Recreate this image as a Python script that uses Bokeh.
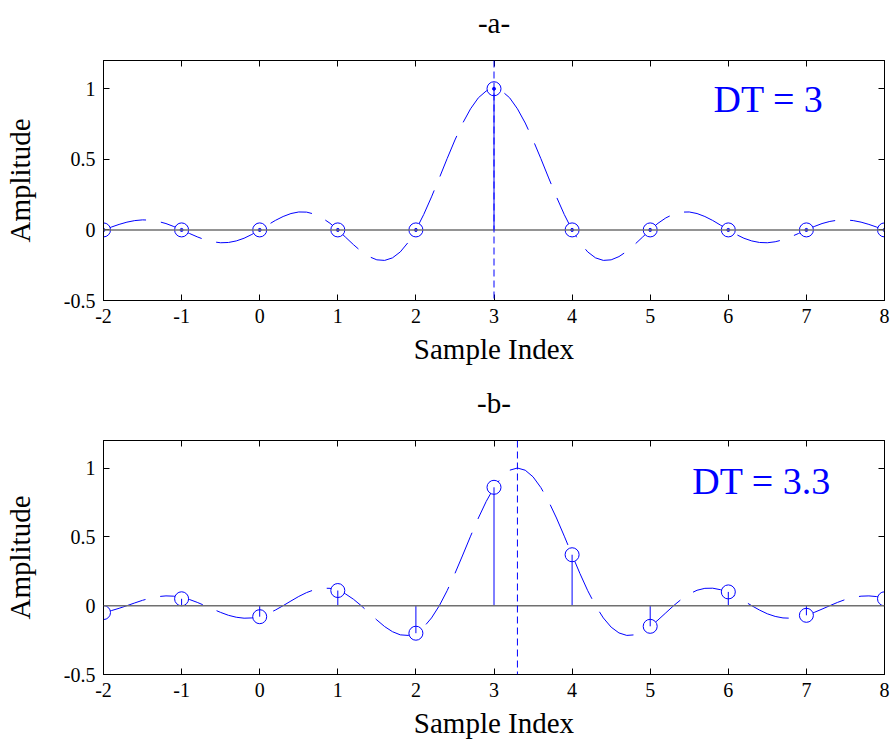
from bokeh.plotting import figure
from bokeh.layouts import column
from bokeh.models import Range1d, LinearAxis, FixedTicker, Span, Label
from bokeh.embed import file_html
from bokeh.resources import INLINE

# ---------------- data ----------------
sample_index = [-2, -1, 0, 1, 2, 3, 4, 5, 6, 7, 8]
samples_a = [0, 0, 0, 0, 0, 1, 0, 0, 0, 0, 0]
samples_b = [-0.05, 0.05, -0.08, 0.11, -0.20, 0.86, 0.37, -0.15, 0.10, -0.07, 0.05]
dt_a = 3
dt_b = 3.3
dt_label_a = "DT = 3"
dt_label_b = "DT = 3.3"
title_a = "-a-"
title_b = "-b-"

curve_x = [
    -2.0, -1.9, -1.8, -1.7, -1.6, -1.5, -1.4, -1.3, -1.2, -1.1,
    -1.0, -0.9, -0.8, -0.7, -0.6, -0.5, -0.4, -0.3, -0.2, -0.1,
    0.0, 0.1, 0.2, 0.3, 0.4, 0.5, 0.6, 0.7, 0.8, 0.9,
    1.0, 1.1, 1.2, 1.3, 1.4, 1.5, 1.6, 1.7, 1.8, 1.9,
    2.0, 2.1, 2.2, 2.3, 2.4, 2.5, 2.6, 2.7, 2.8, 2.9,
    3.0, 3.1, 3.2, 3.3, 3.4, 3.5, 3.6, 3.7, 3.8, 3.9,
    4.0, 4.1, 4.2, 4.3, 4.4, 4.5, 4.6, 4.7, 4.8, 4.9,
    5.0, 5.1, 5.2, 5.3, 5.4, 5.5, 5.6, 5.7, 5.8, 5.9,
    6.0, 6.1, 6.2, 6.3, 6.4, 6.5, 6.6, 6.7, 6.8, 6.9,
    7.0, 7.1, 7.2, 7.3, 7.4, 7.5, 7.6, 7.7, 7.8, 7.9,
    8.0,
]
curve_a = [
    0.000, 0.020, 0.039, 0.055, 0.066, 0.071, 0.069, 0.060, 0.045, 0.024,
    0.000, -0.025, -0.049, -0.070, -0.084, -0.091, -0.089, -0.078, -0.059, -0.032,
    0.000, 0.034, 0.067, 0.095, 0.116, 0.127, 0.126, 0.112, 0.085, 0.047,
    0.000, -0.052, -0.104, -0.152, -0.189, -0.212, -0.216, -0.198, -0.156, -0.089,
    0.000, 0.109, 0.234, 0.368, 0.505, 0.637, 0.757, 0.858, 0.936, 0.984,
    1.000, 0.984, 0.936, 0.858, 0.757, 0.637, 0.505, 0.368, 0.234, 0.109,
    0.000, -0.089, -0.156, -0.198, -0.216, -0.212, -0.189, -0.152, -0.104, -0.052,
    0.000, 0.047, 0.085, 0.112, 0.126, 0.127, 0.116, 0.095, 0.067, 0.034,
    0.000, -0.032, -0.059, -0.078, -0.089, -0.091, -0.084, -0.070, -0.049, -0.025,
    0.000, 0.024, 0.045, 0.060, 0.069, 0.071, 0.066, 0.055, 0.039, 0.020,
    0.000,
]
curve_b = [
    -0.049, -0.036, -0.019, 0.000, 0.020, 0.039, 0.055, 0.066, 0.071, 0.069,
    0.060, 0.045, 0.024, 0.000, -0.025, -0.049, -0.070, -0.084, -0.091, -0.089,
    -0.078, -0.059, -0.032, 0.000, 0.034, 0.067, 0.095, 0.116, 0.127, 0.126,
    0.112, 0.085, 0.047, 0.000, -0.052, -0.104, -0.152, -0.189, -0.212, -0.216,
    -0.198, -0.156, -0.089, 0.000, 0.109, 0.234, 0.368, 0.505, 0.637, 0.757,
    0.858, 0.936, 0.984, 1.000, 0.984, 0.936, 0.858, 0.757, 0.637, 0.505,
    0.368, 0.234, 0.109, 0.000, -0.089, -0.156, -0.198, -0.216, -0.212, -0.189,
    -0.152, -0.104, -0.052, 0.000, 0.047, 0.085, 0.112, 0.126, 0.127, 0.116,
    0.095, 0.067, 0.034, 0.000, -0.032, -0.059, -0.078, -0.089, -0.091, -0.084,
    -0.070, -0.049, -0.025, 0.000, 0.024, 0.045, 0.060, 0.069, 0.071, 0.066,
    0.055,
]

x_ticks = [-2, -1, 0, 1, 2, 3, 4, 5, 6, 7, 8]
x_tick_labels = ["-2", "-1", "0", "1", "2", "3", "4", "5", "6", "7", "8"]
y_ticks = [-0.5, 0, 0.5, 1]
y_tick_labels = ["-0.5", "0", "0.5", "1"]

X_LO, X_HI = -2, 8
Y_LO, Y_HI = -0.5, 1.2

FONT = "Liberation Serif"
BLUE = "#0000FF"


def style_axis(ax, ticks, labels, show_labels=True):
    ax.ticker = FixedTicker(ticks=ticks)
    ax.major_label_overrides = {t: l for t, l in zip(ticks, labels)}
    ax.major_tick_in = 6
    ax.major_tick_out = 0
    ax.minor_tick_in = 0
    ax.minor_tick_out = 0
    ax.axis_line_color = "black"
    ax.axis_line_width = 1
    ax.major_tick_line_color = "black"
    ax.major_label_text_font = FONT
    ax.major_label_text_color = "black"
    ax.axis_label_text_font = FONT
    ax.axis_label_text_font_size = "29px"
    ax.axis_label_text_font_style = "normal"
    ax.axis_label_text_color = "black"
    if show_labels:
        ax.major_label_text_font_size = "20px"
        ax.major_label_standoff = 8
    else:
        ax.major_label_text_font_size = "0px"
        ax.major_label_text_alpha = 0
        ax.major_label_standoff = 0


def make_panel(title, curve, samples, dt, dt_label, label_x, label_y,
               top_border, frame_h, dots):
    p = figure(
        width=891, height=371,
        x_range=Range1d(X_LO, X_HI), y_range=Range1d(Y_LO, Y_HI),
        output_backend="svg", toolbar_location=None,
        min_border_left=102, min_border_right=7,
        min_border_top=top_border, min_border_bottom=371 - top_border - frame_h,
    )
    p.grid.visible = False
    p.outline_line_color = "black"
    p.background_fill_color = "white"
    p.border_fill_color = "white"

    style_axis(p.xaxis[0], x_ticks, x_tick_labels)
    style_axis(p.yaxis[0], y_ticks, y_tick_labels)
    p.xaxis[0].axis_label = "Sample Index"
    p.yaxis[0].axis_label = "Amplitude"
    p.xaxis[0].axis_label_standoff = 7
    p.yaxis[0].axis_label_standoff = 25

    # top axis carries the subplot title ("-a-" / "-b-") as its label
    top_ax = LinearAxis(axis_label=title)
    right_ax = LinearAxis()
    style_axis(top_ax, x_ticks, x_tick_labels, show_labels=False)
    style_axis(right_ax, y_ticks, y_tick_labels, show_labels=False)
    top_ax.axis_label_standoff = 22
    p.add_layout(top_ax, "above")
    p.add_layout(right_ax, "right")

    # interpolated (dashed) curve
    p.line(curve_x, curve, line_color=BLUE, line_width=1, line_dash="44 15")
    # stem markers (white filled circles)
    p.scatter(sample_index, samples, marker="circle", size=14,
              line_color=BLUE, line_width=1, fill_color="white")
    # baseline
    p.add_layout(Span(location=0, dimension="width", line_color="#707070", line_width=1.5))
    # stems
    p.segment(x0=sample_index, y0=[0] * len(sample_index), x1=sample_index, y1=samples,
              line_color=BLUE, line_width=1)
    if dots:
        p.scatter(sample_index, samples, marker="circle", size=3,
                  line_color=BLUE, fill_color=BLUE)
    # delay marker
    p.add_layout(Span(location=dt, dimension="height", line_color=BLUE,
                      line_width=1, line_dash="7 4"))
    p.add_layout(Label(x=label_x, y=label_y, text=dt_label, text_font=FONT,
                       text_font_size="38px", text_color=BLUE,
                       text_baseline="alphabetic"))
    return p


p1 = make_panel(title_a, curve_a, samples_a, dt_a, dt_label_a, 5.81, 0.925, 60, 240, True)
p2 = make_panel(title_b, curve_b, samples_b, dt_b, dt_label_b, 5.54, 0.905, 69, 234, False)

layout = column(p1, p2, spacing=0)
open("out.html", "w").write(file_html(layout, INLINE))
